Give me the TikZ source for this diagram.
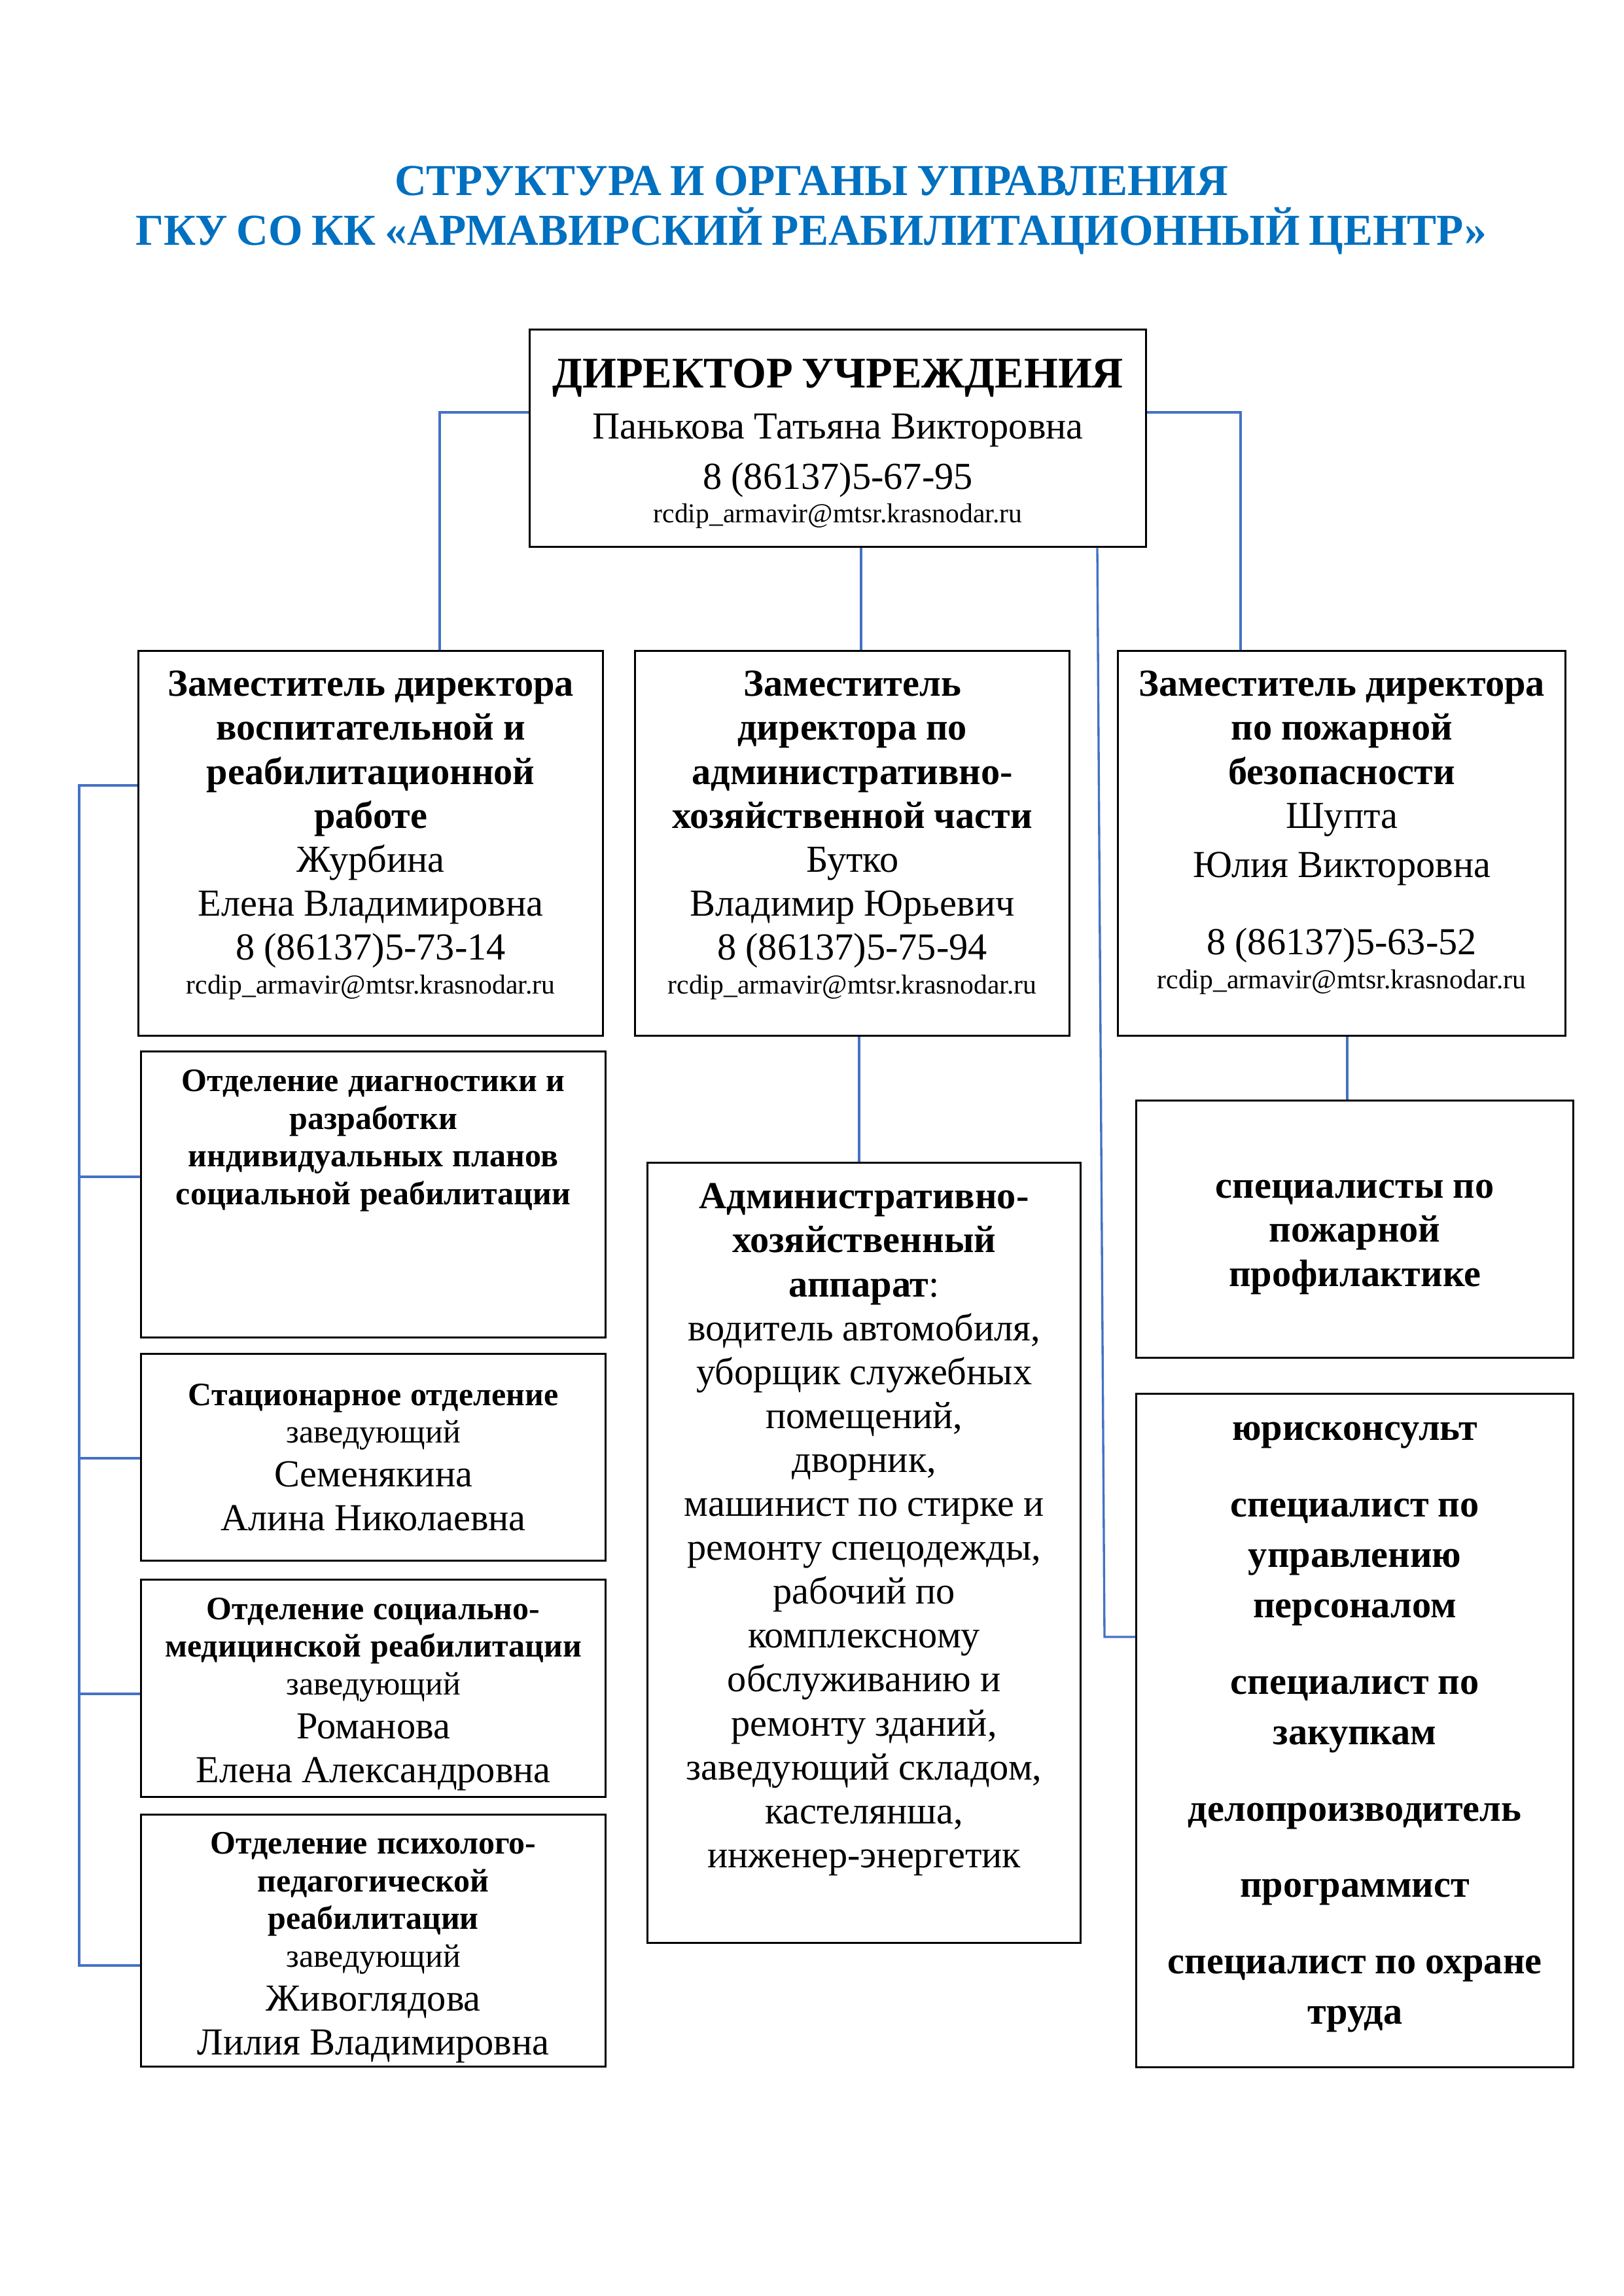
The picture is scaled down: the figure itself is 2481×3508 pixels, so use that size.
\documentclass[tikz,border=0pt]{standalone}
\usepackage{fontspec}
\setmainfont{Liberation Serif}
\usetikzlibrary{calc}
\definecolor{ttlblue}{RGB}{0,112,192}
\definecolor{connblue}{RGB}{68,114,196}
\newcommand\tstr{\rule{0pt}{20pt}}
\newcommand\fs[2]{\fontsize{#1}{#2}\selectfont}
\newcommand\bx[5]{\node[box, minimum width={(#4-#2)*0.23994pt}, minimum height={(#5-#3)*0.23994pt}] (#1) at (#2,#3) {};}
\begin{document}
\begin{tikzpicture}[x=0.23994pt,y=-0.23994pt,
  box/.style={draw=black, line width=0.8pt, inner sep=0pt, anchor=north west},
  txt/.style={inner sep=0pt, anchor=north, yshift=20pt, align=center, text width=260pt},
  conn/.style={draw=connblue, line width=0.8pt}]
\useasboundingbox (0,0) rectangle (2481,3508);
% title
\node[txt, text=ttlblue, text width=560pt] (title) at (1240,298)
  {\fs{16.2}{18.24}\bfseries\tstr СТРУКТУРА И ОРГАНЫ УПРАВЛЕНИЯ\\ ГКУ СО КК «АРМАВИРСКИЙ РЕАБИЛИТАЦИОННЫЙ ЦЕНТР»\par};
% boxes
\bx{dir}{808}{502}{1750}{834}
\bx{dep1}{210}{993}{920}{1581}
\bx{dep2}{969}{993}{1633}{1581}
\bx{dep3}{1707}{993}{2391}{1581}
\bx{diag}{214}{1605}{924}{2042}
\bx{stat}{214}{2067}{924}{2383}
\bx{socmed}{214}{2412}{924}{2744}
\bx{psych}{214}{2771}{924}{3156}
\bx{admin}{988}{1775}{1650}{2967}
\bx{fire}{1735}{1680}{2403}{2073}
\bx{rlow}{1735}{2128}{2403}{3157}
% texts
\node[txt] (dirT) at (dir.north |- 0,592)
  {\fs{16}{18.7}\tstr\textbf{ДИРЕКТОР УЧРЕЖДЕНИЯ}\par
   \fs{14}{18.6}Панькова Татьяна Викторовна\\ 8 (86137)5-67-95\par
   \fs{10}{12.2}rcdip\_armavir@mtsr.krasnodar.ru\par};
\node[txt] (dep1T) at (dep1.north |- 0,1063)
  {\fs{14}{16.1}\tstr\textbf{Заместитель директора}\\ \textbf{воспитательной и}\\ \textbf{реабилитационной}\\ \textbf{работе}\\
   Журбина\\ Елена Владимировна\\ 8 (86137)5-73-14\par
   \fs{10}{12.5}rcdip\_armavir@mtsr.krasnodar.ru\par};
\node[txt] (dep2T) at (dep2.north |- 0,1063)
  {\fs{14}{16.1}\tstr\textbf{Заместитель}\\ \textbf{директора по}\\ \textbf{административно-}\\ \textbf{хозяйственной части}\\
   Бутко\\ Владимир Юрьевич\\ 8 (86137)5-75-94\par
   \fs{10}{12.5}rcdip\_armavir@mtsr.krasnodar.ru\par};
\node[txt] (dep3T) at (dep3.north |- 0,1063)
  {\fs{14}{16.1}\tstr\textbf{Заместитель директора}\\ \textbf{по пожарной}\\ \textbf{безопасности}\\
   Шупта\\[2.1pt] Юлия Викторовна\\[12.2pt] 8 (86137)5-63-52\par
   \fs{10}{12.3}rcdip\_armavir@mtsr.krasnodar.ru\par};
\node[txt] (diagT) at (diag.north |- 0,1667)
  {\fs{12}{13.8}\bfseries\tstr Отделение диагностики и\\ разработки\\ индивидуальных планов\\ социальной реабилитации\par};
\node[txt] (statT) at (stat.north |- 0,2147)
  {\fs{12}{13.6}\tstr\textbf{Стационарное отделение}\\ заведующий\par
   \fs{14}{16.1}Семенякина\\ Алина Николаевна\par};
\node[txt] (socmedT) at (socmed.north |- 0,2474)
  {\fs{12}{13.7}\tstr\textbf{Отделение социально-}\\ \textbf{медицинской реабилитации}\\ заведующий\par
   \fs{14}{16.1}Романова\\ Елена Александровна\par};
\node[txt] (psychT) at (psych.north |- 0,2832)
  {\fs{12}{13.8}\tstr\textbf{Отделение психолого-}\\ \textbf{педагогической}\\ \textbf{реабилитации}\\ заведующий\par
   \fs{14}{16.1}Живоглядова\\ Лилия Владимировна\par};
\node[txt] (adminT) at (admin.north |- 0,1846)
  {\fs{14}{16.1}\tstr\textbf{Административно-}\\ \textbf{хозяйственный}\\ \textbf{аппарат}:\\
   водитель автомобиля,\\ уборщик служебных\\ помещений,\\ дворник,\\ машинист по стирке и\\ ремонту спецодежды,\\
   рабочий по\\ комплексному\\ обслуживанию и\\ ремонту зданий,\\ заведующий складом,\\ кастелянша,\\ инженер-энергетик\par};
\node[txt] (fireT) at (fire.north |- 0,1830)
  {\fs{14}{16.1}\bfseries\tstr специалисты по\\ пожарной\\ профилактике\par};
\node[txt] (rlowT) at (rlow.north |- 0,2200)
  {\fs{14}{18.5}\bfseries\tstr юрисконсульт\par\vspace{9.5pt}
   специалист по\\ управлению\\ персоналом\par\vspace{9.5pt}
   специалист по\\ закупкам\par\vspace{9.5pt}
   делопроизводитель\par\vspace{9.5pt}
   программист\par\vspace{9.5pt}
   специалист по охране\\ труда\par};
% connectors
\coordinate (c1) at (672,630);
\coordinate (c2) at (1896,630);
\coordinate (c3) at (1316,0);
\coordinate (c4) at (1677,0);
\coordinate (c5) at (1688,2501);
\coordinate (c6) at (1313,0);
\coordinate (c7) at (2059,0);
\draw[conn] (dir.west |- c1) -- (c1) -- (c1 |- dep1.north);
\draw[conn] (dir.east |- c2) -- (c2) -- (c2 |- dep3.north);
\draw[conn] (c3 |- dir.south) -- (c3 |- dep2.north);
\draw[conn] (c4 |- dir.south) -- (c5) -- (c5 -| rlow.west);
\draw[conn] (c6 |- dep2.south) -- (c6 |- admin.north);
\draw[conn] (c7 |- dep3.south) -- (c7 |- fire.north);
\coordinate (b1) at (121,1200);
\coordinate (b2) at (121,1798);
\coordinate (b3) at (121,2228);
\coordinate (b4) at (121,2588);
\coordinate (b5) at (121,3003);
\draw[conn] (dep1.west |- b1) -- (b1) -- (b5) -- (b5 -| psych.west);
\draw[conn] (b2) -- (b2 -| diag.west);
\draw[conn] (b3) -- (b3 -| stat.west);
\draw[conn] (b4) -- (b4 -| socmed.west);
\end{tikzpicture}
\end{document}
